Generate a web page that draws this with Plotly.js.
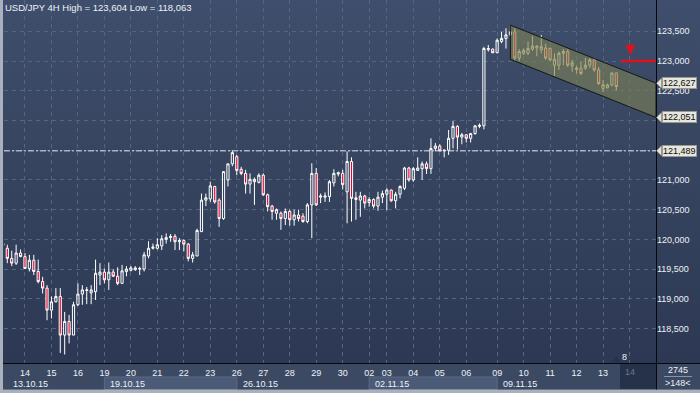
<!DOCTYPE html>
<html><head><meta charset="utf-8">
<script src="https://cdn.plot.ly/plotly-3.0.1.min.js"></script>
<style>
html,body{margin:0;padding:0;background:#2f3b56;overflow:hidden;}
#chart{width:700px;height:393px;background:linear-gradient(to bottom,#3f4e6c 0px,#36445f 170px,#2d3954 363px,#2d3954 393px);}
</style></head><body><div id="chart"></div>
<script>
// ---- data (4H candles, USD/JPY) ----
const openP=[119.90,119.85,119.68,119.60,119.77,119.71,119.51,119.65,119.46,119.29,
119.18,118.81,118.95,119.04,118.39,118.62,118.39,118.90,119.08,119.14,
119.10,119.12,119.40,119.45,119.32,119.45,119.38,119.26,119.46,119.48,
119.49,119.50,119.50,119.72,119.85,119.85,119.89,120.00,120.03,120.05,
119.96,119.98,119.92,119.68,119.72,120.13,120.66,120.68,120.89,120.66,
120.35,121.00,121.27,121.39,121.18,121.11,120.93,121.01,120.96,121.08,
120.75,120.56,120.44,120.44,120.35,120.47,120.33,120.41,120.39,120.30,
120.58,121.11,120.71,120.71,120.72,120.95,121.10,121.11,120.80,121.31,
120.67,120.66,120.73,120.62,120.67,120.56,120.71,120.76,120.83,120.65,
120.76,120.86,121.20,121.00,121.16,121.19,121.27,121.19,121.53,121.57,
121.49,121.50,121.70,121.90,121.72,121.76,121.70,121.78,121.90,121.91,
123.19,123.20,123.14,123.33,123.38,123.44,123.49,123.05,123.13,123.13,
123.20,123.22,123.19,123.22,123.21,122.93,122.93,123.13,123.16,122.92,
122.86,122.88,122.88,122.93,123.02,122.85,122.54,122.55,122.60,122.80];
const highP=[119.97,119.91,119.81,119.91,119.83,119.77,119.74,119.74,119.66,119.37,
119.23,119.04,119.18,119.18,118.78,118.73,118.95,119.26,119.23,119.20,
119.23,119.66,119.60,119.51,119.61,119.50,119.53,119.57,119.55,119.55,
119.55,119.54,119.79,119.97,119.93,120.02,120.07,120.10,120.09,120.09,
120.02,120.00,119.94,119.79,120.18,120.77,120.77,120.97,120.90,120.69,
121.14,121.27,121.489,121.42,121.22,121.17,121.11,121.04,121.11,121.11,
120.77,120.58,120.52,120.47,120.52,120.50,120.50,120.50,120.44,120.61,
121.28,121.20,120.77,120.79,121.00,121.18,121.14,121.17,121.48,121.38,
120.80,120.80,120.75,120.71,120.69,120.80,120.82,120.86,120.84,120.80,
120.91,121.22,121.22,121.22,121.38,121.31,121.31,121.70,121.62,121.60,
121.51,121.84,121.99,121.92,121.79,121.77,121.79,121.92,121.95,123.24,
123.27,123.21,123.38,123.49,123.55,123.604,123.55,123.20,123.21,123.33,
123.42,123.27,123.44,123.29,123.23,123.13,123.16,123.20,123.20,123.02,
122.92,122.99,123.05,123.05,123.05,122.90,122.68,122.62,122.80,122.80];
const lowP=[119.84,119.60,119.55,119.57,119.70,119.50,119.46,119.40,119.26,119.09,
118.64,118.67,118.94,118.09,118.063,118.25,118.39,118.88,118.90,118.91,
118.91,118.98,119.23,119.26,119.15,119.37,119.23,119.26,119.38,119.46,
119.47,119.40,119.46,119.68,119.83,119.83,119.82,119.93,119.96,119.82,
119.82,119.80,119.63,119.61,119.72,120.13,120.56,120.63,120.60,120.21,
120.33,120.89,121.23,121.08,121.08,120.77,120.77,120.58,120.94,120.73,
120.47,120.33,120.33,120.16,120.24,120.23,120.23,120.30,120.28,120.27,
120.02,120.56,120.61,120.63,120.63,120.89,121.06,120.84,120.27,120.30,
120.33,120.38,120.52,120.55,120.52,120.48,120.61,120.49,120.63,120.52,
120.69,120.83,120.97,120.97,121.15,121.00,121.10,121.10,121.48,121.48,
121.38,121.42,121.53,121.51,121.60,121.63,121.63,121.76,121.87,121.85,
123.16,123.13,123.13,123.30,123.21,123.41,123.00,123.00,123.10,123.10,
123.17,123.08,123.13,123.02,123.00,122.75,122.85,122.93,122.90,122.82,
122.79,122.76,122.85,122.88,122.82,122.60,122.48,122.54,122.57,122.50];
const closeP=[119.93,119.68,119.60,119.77,119.71,119.51,119.65,119.46,119.29,119.18,
118.81,118.95,119.04,118.39,118.62,118.39,118.90,119.08,119.15,119.15,
119.15,119.43,119.45,119.32,119.45,119.38,119.26,119.47,119.50,119.52,
119.52,119.51,119.74,119.85,119.87,119.91,120.01,120.03,120.05,119.96,
119.98,119.92,119.68,119.74,120.15,120.66,120.70,120.90,120.63,120.35,
121.14,121.27,121.46,121.16,121.11,120.93,121.01,120.97,121.08,120.75,
120.55,120.47,120.50,120.35,120.47,120.33,120.41,120.35,120.30,120.58,
121.11,120.58,120.73,120.73,120.97,121.11,121.12,120.92,121.31,120.69,
120.70,120.73,120.61,120.67,120.56,120.71,120.77,120.83,120.65,120.76,
120.89,121.20,121.00,121.19,121.20,121.27,121.19,121.53,121.57,121.49,
121.50,121.70,121.90,121.72,121.76,121.70,121.78,121.91,121.92,123.21,
123.21,123.14,123.35,123.38,123.44,123.49,123.05,123.16,123.18,123.21,
123.25,123.25,123.24,123.05,123.02,123.03,123.13,123.16,122.93,122.97,
122.88,122.79,122.93,123.02,122.85,122.62,122.60,122.60,122.80,122.57];

const dayTickIdx=[5,11,17,23,29,35,41,47,53,59,65,71,77,83,87,93,99,105,112,118,124,130,136,142];
const dayTickText=['14','15','16','19','20','21','22','23','26','27','28','29','30','02','03','04','05','06','09','10','11','12','13','14'];
const weekStartIdx=[0,23,53,83,112];
const weekLabels=['13.10.15','19.10.15','26.10.15','02.11.15','09.11.15'];
const priceTicks=[118.5,119.0,119.5,120.0,120.5,121.0,121.5,122.0,122.5,123.0,123.5];
const priceTickText=['118,500','119,000','119,500','120,000','120,500','121,000','','','122,500','123,000','123,500'];
const channelStartIdx=115, channelEndIdx=148;
const channelUpper=[123.604,122.627];
const channelLower=[123.03,122.051];
const resistanceLevel=121.489;
const signalX=[140.1,148];
const signalLevel=123.0;
const signalArrowX=142.2, signalArrowY=123.10;
const tagLevels=[122.627,122.051,121.489];
const titleText='USD/JPY 4H High = 123,604 Low = 118,063';
const barsTotal='2745', barsShown='>148<', pendingCount='8';
const channelSplit=116;

// ---- geometry ----
const W=700,H=393,ML=4,MR=44,MT=0,MB=30;
const PW=W-ML-MR, PH=H-MT-MB;
const yMin=117.9205, yMax=124.0265, xMin=0.249, xMax=148.0;
const px=v=>(v-ML)/PW;            // pixel x -> paper
const py=v=>(MT+PH-v)/PH;         // pixel y -> paper
const upp=(yMax-yMin)/PH;         // price units per pixel

const idx=openP.map((_,i)=>i);
const sl=(a,s,e)=>a.slice(s,e);
const FONT='"Liberation Sans", Arial, sans-serif';

const candleA={type:'candlestick',x:sl(idx,0,channelSplit),open:sl(openP,0,channelSplit),high:sl(highP,0,channelSplit),low:sl(lowP,0,channelSplit),close:sl(closeP,0,channelSplit),
  increasing:{line:{color:'#ffffff',width:1},fillcolor:'rgba(0,0,0,0)'},
  decreasing:{line:{color:'#ffffff',width:1},fillcolor:'#e3062c'},
  whiskerwidth:0,hoverinfo:'skip',showlegend:false};
const candleB={type:'candlestick',x:sl(idx,channelSplit),open:sl(openP,channelSplit),high:sl(highP,channelSplit),low:sl(lowP,channelSplit),close:sl(closeP,channelSplit),
  increasing:{line:{color:'#f4efc0',width:1},fillcolor:'rgba(0,0,0,0)'},
  decreasing:{line:{color:'#f4efc0',width:1},fillcolor:'#e3062c'},
  whiskerwidth:0,hoverinfo:'skip',showlegend:false};
const channel={type:'scatter',mode:'lines',
  x:[channelStartIdx,channelEndIdx,channelEndIdx,channelStartIdx,channelStartIdx],
  y:[channelUpper[0],channelUpper[1],channelLower[1],channelLower[0],channelUpper[0]],
  fill:'toself',fillcolor:'rgba(125,130,85,0.6)',line:{color:'#141812',width:1},hoverinfo:'skip',showlegend:false};
const signal={type:'scatter',mode:'lines',x:signalX,y:[signalLevel,signalLevel],line:{color:'#e3101c',width:2.5},hoverinfo:'skip',showlegend:false};

const shapes=[
  {type:'rect',layer:'below',xref:'paper',yref:'paper',x0:px(0),x1:px(700),y0:py(363),y1:py(389),fillcolor:'#3c4963',line:{width:0}},
  {type:'rect',layer:'below',xref:'paper',yref:'paper',x0:px(620),x1:px(656),y0:py(363.5),y1:py(389),fillcolor:'#26314a',line:{width:0}},
  {type:'rect',layer:'below',xref:'x',yref:'paper',x0:weekStartIdx[1],x1:weekStartIdx[2],y0:py(377),y1:py(389.5),fillcolor:'#4b5a77',line:{color:'#5b6a86',width:1}},
  {type:'rect',layer:'below',xref:'x',yref:'paper',x0:weekStartIdx[3],x1:weekStartIdx[4],y0:py(377),y1:py(389.5),fillcolor:'#4b5a77',line:{color:'#5b6a86',width:1}},
  {type:'rect',layer:'above',xref:'paper',yref:'paper',x0:px(0),x1:px(3),y0:py(0),y1:py(393),fillcolor:'#a9b1bd',line:{width:0}},
  {type:'rect',layer:'above',xref:'paper',yref:'paper',x0:px(0),x1:px(700),y0:py(389.5),y1:py(393),fillcolor:'#a9b1bd',line:{width:0}},
  {type:'line',layer:'above',xref:'paper',yref:'paper',x0:px(3),x1:px(700),y0:py(363.5),y1:py(363.5),line:{color:'#05070a',width:1}},
  {type:'line',layer:'above',xref:'paper',yref:'paper',x0:px(656.5),x1:px(656.5),y0:py(0),y1:py(389.5),line:{color:'#05070a',width:1}},
  {type:'line',layer:'above',xref:'paper',yref:'y',x0:0,x1:1,y0:resistanceLevel,y1:resistanceLevel,line:{color:'#dfe5ee',width:1,dash:'6px,2px,2px,2px'}},
  {type:'line',layer:'above',xref:'paper',yref:'paper',x0:px(664),x1:px(692),y0:py(376.5),y1:py(376.5),line:{color:'#8a94a8',width:1}},
  {type:'path',layer:'above',xref:'paper',yref:'paper',path:`M ${px(611)} ${py(362)} L ${px(616)} ${py(356)} L ${px(621)} ${py(362)} Z`,fillcolor:'#27324a',line:{width:0}}
];
tagLevels.forEach(v=>{
  shapes.push({type:'path',layer:'above',xref:'paper',yref:'y',
    path:`M ${px(656.5)} ${v} L ${px(661.5)} ${v+5*upp} L ${px(661.5)} ${v-5*upp} Z`,fillcolor:'#e6e6dc',line:{color:'#9a9a90',width:0.5}});
});

const fmt=v=>v.toFixed(3).replace('.',',');
const annotations=[];
tagLevels.forEach(v=>{
  annotations.push({xref:'paper',yref:'y',x:1,y:v,xanchor:'left',yanchor:'middle',xshift:5.5,text:fmt(v),showarrow:false,
    bgcolor:'#e6e6dc',bordercolor:'#9a9a90',borderwidth:1,borderpad:0,font:{family:FONT,size:9,color:'#0c0c0c'}});
});
weekLabels.forEach((t,k)=>{
  annotations.push({xref:'x',yref:'paper',x:k===0?xMin:weekStartIdx[k],y:py(383.5),xanchor:'left',yanchor:'middle',xshift:k===0?7:4,
    text:t,showarrow:false,font:{family:FONT,size:9,color:'#eef2f8'}});
});
annotations.push({xref:'x',yref:'paper',x:dayTickIdx[dayTickIdx.length-1],y:py(371.5),xanchor:'center',yanchor:'middle',text:dayTickText[dayTickText.length-1],showarrow:false,font:{family:FONT,size:9,color:'#6c7891'}});
annotations.push({xref:'paper',yref:'paper',x:px(678),y:py(370),xanchor:'center',yanchor:'middle',text:barsTotal,showarrow:false,font:{family:FONT,size:9,color:'#eef2f8'}});
annotations.push({xref:'paper',yref:'paper',x:px(678),y:py(382.5),xanchor:'center',yanchor:'middle',text:barsShown,showarrow:false,font:{family:FONT,size:9,color:'#eef2f8'}});
annotations.push({xref:'paper',yref:'paper',x:px(624),y:py(357),xanchor:'center',yanchor:'middle',text:pendingCount,showarrow:false,font:{family:FONT,size:9,color:'#eef2f8'}});
annotations.push({xref:'x',yref:'y',x:signalArrowX,y:signalArrowY,ax:0,ay:-12,text:'',showarrow:true,arrowhead:2,arrowsize:1,arrowwidth:2,arrowcolor:'#e3101c'});

const layout={
  width:W,height:H,margin:{l:ML,r:MR,t:MT,b:MB,pad:0},
  paper_bgcolor:'rgba(0,0,0,0)',plot_bgcolor:'rgba(0,0,0,0)',
  font:{family:FONT,size:9,color:'#eef2f8'},
  title:{text:titleText,x:5/W,xref:'container',xanchor:'left',y:1-8/H,yref:'container',yanchor:'middle',font:{family:FONT,size:9.5,color:'#eef2f8'}},
  showlegend:false,
  xaxis:{range:[xMin,xMax],type:'linear',rangeslider:{visible:false},tickmode:'array',tickvals:dayTickIdx,
    ticktext:dayTickText.map((t,k)=>k===dayTickText.length-1?'':t),ticks:'',ticklabelstandoff:3,showline:false,zeroline:false,
    showgrid:true,gridcolor:'#56647f',griddash:'4px,4px',gridwidth:1,tickfont:{family:FONT,size:9,color:'#eef2f8'},fixedrange:true},
  yaxis:{range:[yMin,yMax],side:'right',tickmode:'array',tickvals:priceTicks,ticktext:priceTickText,ticks:'',showline:false,zeroline:false,
    showgrid:true,gridcolor:'#56647f',griddash:'4px,4px',gridwidth:1,tickfont:{family:FONT,size:9,color:'#eef2f8'},fixedrange:true},
  shapes:shapes,annotations:annotations,boxgap:0.3,boxgroupgap:0.3
};
Plotly.newPlot('chart',[channel,signal,candleA,candleB],layout,{staticPlot:true,displayModeBar:false});
</script></body></html>
